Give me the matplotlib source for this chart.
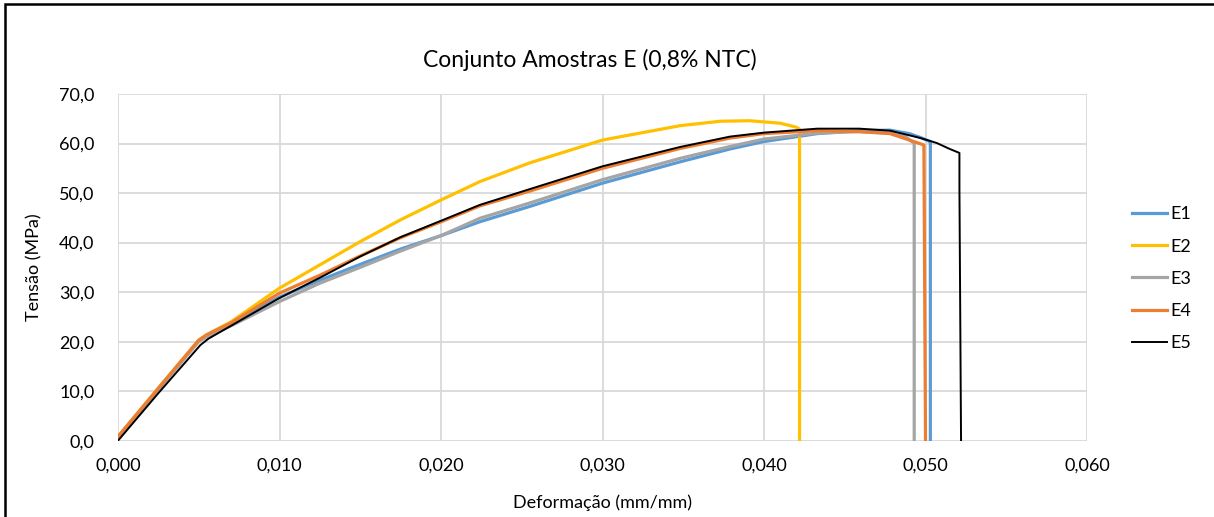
import matplotlib.pyplot as plt
from matplotlib.patches import Rectangle
from matplotlib.ticker import FuncFormatter, MultipleLocator

plt.rcParams['font.family'] = ['Lato', 'DejaVu Sans']

# deformacao (mm/mm) and tensao (MPa) for each specimen
e1_x = [0, 0.0025, 0.0050, 0.0055, 0.0070, 0.0100, 0.0125, 0.0150, 0.0175, 0.0200, 0.0224, 0.0255,
        0.0300, 0.0348, 0.0379, 0.0400, 0.0433, 0.0459, 0.0478, 0.0490, 0.0497, 0.0502, 0.0503, 0.0503]
e1_y = [0.8, 10.5, 20.2, 21.2, 23.6, 29.0, 32.4, 35.6, 38.7, 41.4, 44.2, 47.3,
        52.0, 56.3, 58.9, 60.4, 62.0, 62.6, 62.7, 62.0, 61.2, 60.5, 60.4, 0.0]

e2_x = [0, 0.0025, 0.0050, 0.0055, 0.0070, 0.0100, 0.0125, 0.0150, 0.0175, 0.0200, 0.0224, 0.0255,
        0.0300, 0.0348, 0.0373, 0.0391, 0.0410, 0.0420, 0.0422, 0.0422]
e2_y = [0.8, 10.6, 20.3, 21.4, 24.0, 30.8, 35.5, 40.2, 44.6, 48.6, 52.3, 56.1,
        60.7, 63.6, 64.5, 64.6, 64.1, 63.3, 62.9, 0.0]

e3_x = [0, 0.0025, 0.0050, 0.0055, 0.0070, 0.0100, 0.0125, 0.0150, 0.0175, 0.0200, 0.0224, 0.0255,
        0.0300, 0.0348, 0.0379, 0.0400, 0.0433, 0.0459, 0.0478, 0.0488, 0.0492, 0.0493, 0.0493, 0.0493]
e3_y = [0.5, 10.3, 20.0, 21.0, 23.2, 28.1, 31.8, 35.0, 38.3, 41.4, 44.9, 48.0,
        52.7, 57.0, 59.4, 60.9, 62.1, 62.4, 62.1, 61.3, 60.3, 60.1, 12.0, 0.0]

e4_x = [0, 0.0025, 0.0050, 0.0055, 0.0070, 0.0100, 0.0125, 0.0150, 0.0175, 0.0200, 0.0224, 0.0255,
        0.0300, 0.0348, 0.0379, 0.0400, 0.0433, 0.0459, 0.0478, 0.0490, 0.0499, 0.0500]
e4_y = [0.8, 10.6, 20.3, 21.4, 23.8, 29.8, 33.4, 37.3, 41.0, 44.2, 47.4, 50.4,
        55.0, 59.0, 61.1, 62.0, 62.6, 62.4, 62.0, 60.7, 59.7, 0.0]

e5_x = [0, 0.0025, 0.0051, 0.0056, 0.0070, 0.0100, 0.0125, 0.0150, 0.0175, 0.0200, 0.0224, 0.0255,
        0.0300, 0.0348, 0.0379, 0.0400, 0.0433, 0.0459, 0.0478, 0.0497, 0.0507, 0.0515, 0.0521, 0.0521, 0.0522]
e5_y = [0.0, 9.6, 19.3, 20.6, 23.2, 28.8, 32.9, 37.2, 41.1, 44.4, 47.6, 50.8,
        55.4, 59.3, 61.4, 62.2, 63.0, 63.0, 62.6, 61.1, 60.1, 58.9, 58.1, 51.0, 0.0]

series = [
    ('E1', e1_x, e1_y, '#5B9BD5', 2.3),
    ('E2', e2_x, e2_y, '#FFC000', 2.3),
    ('E3', e3_x, e3_y, '#A5A5A5', 2.3),
    ('E4', e4_x, e4_y, '#ED7D31', 2.3),
    ('E5', e5_x, e5_y, '#000000', 1.4),
]

fig = plt.figure(figsize=(12.14, 5.17), dpi=100)
ax = fig.add_axes([0.0972, 0.1476, 0.7982, 0.6706])

for name, xs, ys, color, lw in series:
    ax.plot(xs, ys, color=color, lw=lw, label=name, solid_joinstyle='round')

ax.set_xlim(0, 0.060)
ax.set_ylim(0, 70)
ax.xaxis.set_major_locator(MultipleLocator(0.010))
ax.yaxis.set_major_locator(MultipleLocator(10))
ax.xaxis.set_major_formatter(FuncFormatter(lambda v, p: f'{v:.3f}'.replace('.', ',')))
ax.yaxis.set_major_formatter(FuncFormatter(lambda v, p: f'{v:.1f}'.replace('.', ',')))
ax.grid(True, color='#D9D9D9', lw=1.3)
ax.set_axisbelow(True)
for s in ax.spines.values():
    s.set_visible(False)
ax.tick_params(length=0, labelsize=13, colors='#000000')
ax.tick_params(axis='x', pad=12)
ax.tick_params(axis='y', pad=17)

fig.text(590 / 1214, 1 - 60 / 517, 'Conjunto Amostras E (0,8% NTC)', fontsize=16.5,
         ha='center', va='center')
ax.set_xlabel('Deformação (mm/mm)', fontsize=13, labelpad=15)
ax.set_ylabel('Tensão (MPa)', fontsize=13, labelpad=12)

ax.legend(loc='center left', bbox_to_anchor=(1.03, 0.467), frameon=False, fontsize=13,
          handlelength=1.9, handletextpad=0.2, labelspacing=0.9)

# chart frame
fig.patches.append(Rectangle((5 / 1214, -0.2), 1.3, 1.2 - 4 / 517, transform=fig.transFigure,
                             fill=False, edgecolor='black', lw=1.8, clip_on=False))

fig.savefig('out.png', dpi=100)
